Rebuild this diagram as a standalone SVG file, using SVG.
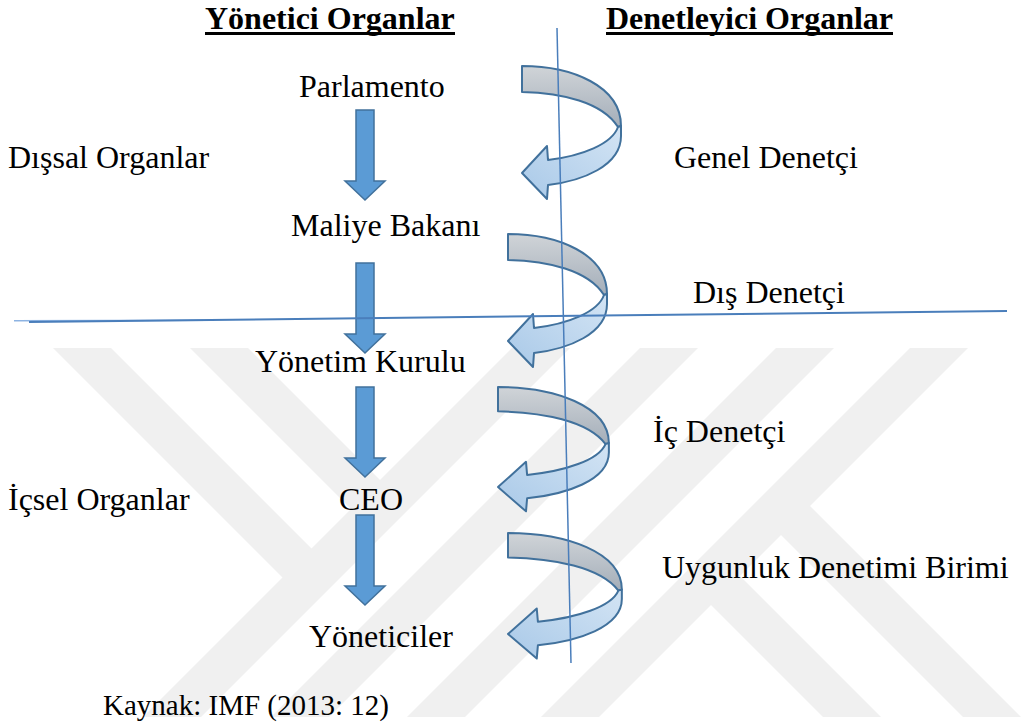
<svg xmlns="http://www.w3.org/2000/svg" xmlns:xlink="http://www.w3.org/1999/xlink" width="1026" height="727" viewBox="0 0 1026 727">
<style>
.t{font-family:"Liberation Serif","Times New Roman",serif;font-size:32px;fill:#000}
.b{font-weight:bold}
.ul{fill:#000}
.wm{fill:#f0f0f0}
.blk{fill:#5b9bd5;stroke:#41719c;stroke-width:1.5}
.ln{stroke:#4a7ebb;fill:none}
.sg{fill:url(#gGray);stroke:#41719c;stroke-width:2;stroke-linejoin:round}
.sb{fill:url(#gBlue);stroke:#41719c;stroke-width:2;stroke-linejoin:round}
</style>
<defs>
<linearGradient id="gGray" x1="0" y1="0" x2="0" y2="1">
<stop offset="0" stop-color="#d0d4d8"/>
<stop offset="1" stop-color="#a4aeb9"/>
</linearGradient>
<linearGradient id="gBlue" x1="1" y1="0" x2="0" y2="1">
<stop offset="0" stop-color="#d3e4f4"/>
<stop offset="1" stop-color="#a9c9e8"/>
</linearGradient>
<path id="down" class="blk" d="M-9,0 H9 V71 H20 L0,90 L-20,71 H-9 Z"/>
<g id="spiral">
<path class="sg" vector-effect="non-scaling-stroke" d="M0,0 C50,0 99,20 99,60 L96,61 C80,36 40,27 0,26 Z"/>
<path class="sb" vector-effect="non-scaling-stroke" d="M99,60 L99,70 C99,100 60,115 26,119 L25,133 L0,107 L25,80 L26,94 C60,90 90,78 96,61 Z"/>
</g>
</defs>
<rect width="1026" height="727" fill="#fff"/>
<g id="watermark">
<polygon class="wm" points="143,717 201,717 570,348 512,348"/>
<polygon class="wm" points="271,717 329,717 698,348 640,348"/>
<polygon class="wm" points="407,717 465,717 834,348 776,348"/>
<polygon class="wm" points="541,717 599,717 968,348 910,348"/>
<polygon class="wm" points="53,348 111,348 316.5,553.5 287.5,582.5"/>
<polygon class="wm" points="190,348 248,348 385,485 356,514"/>
<polygon class="wm" points="963,717 1021,717 805,501 776,530"/>
<polygon class="wm" points="823,717 881,717 735,571 706,600"/>
</g>
<g id="connectors">
<use href="#down" transform="translate(365,110)"/>
<use href="#down" transform="translate(365,263)"/>
<use href="#down" transform="translate(365,387)"/>
<use href="#down" transform="translate(365,515)"/>
<g id="audit-arrows">
<use href="#spiral" transform="translate(522,66)"/>
<use href="#spiral" transform="translate(508,234)"/>
<use href="#spiral" transform="translate(498,387) scale(1.12,0.935)"/>
<use href="#spiral" transform="translate(508,533) scale(1.15,0.944)"/>
</g>
<path class="ln" stroke-width="1.5" d="M557,28 L571,663"/>
<path class="ln" stroke-width="1.5" d="M14,320.7 L213,320.2" style="stroke:#8db3e2"/>
<path class="ln" stroke-width="2" d="M29,322 L1007,311"/>
</g>
<g id="header-yonetici"><text class="t b" x="205" y="29">Yönetici Organlar</text><rect class="ul" x="205" y="32" width="250" height="3"/></g>
<g id="header-denetleyici"><text class="t b" x="606" y="29">Denetleyici Organlar</text><rect class="ul" x="606" y="32" width="287" height="3"/></g>
<g id="parlamento"><text class="t" x="299" y="97">Parlamento</text></g>
<g id="dissal"><text class="t" x="8" y="168">Dışsal Organlar</text></g>
<g id="genel-denetci"><text class="t" x="674" y="168">Genel Denetçi</text></g>
<g id="maliye"><text class="t" x="291" y="236">Maliye Bakanı</text></g>
<g id="dis-denetci"><text class="t" x="693" y="303">Dış Denetçi</text></g>
<g id="yonetim-kurulu"><text class="t" x="255" y="372">Yönetim Kurulu</text></g>
<g id="ic-denetci"><text class="t" x="653" y="442">İç Denetçi</text></g>
<g id="icsel"><text class="t" x="8" y="510">İçsel Organlar</text></g>
<g id="ceo"><text class="t" x="339" y="510">CEO</text></g>
<g id="uygunluk"><text class="t" x="662" y="578">Uygunluk Denetimi Birimi</text></g>
<g id="yoneticiler"><text class="t" x="309" y="647">Yöneticiler</text></g>
<g id="kaynak"><text class="t" x="103" y="715" style="font-size:29px">Kaynak: IMF (2013: 12)</text></g>
</svg>
